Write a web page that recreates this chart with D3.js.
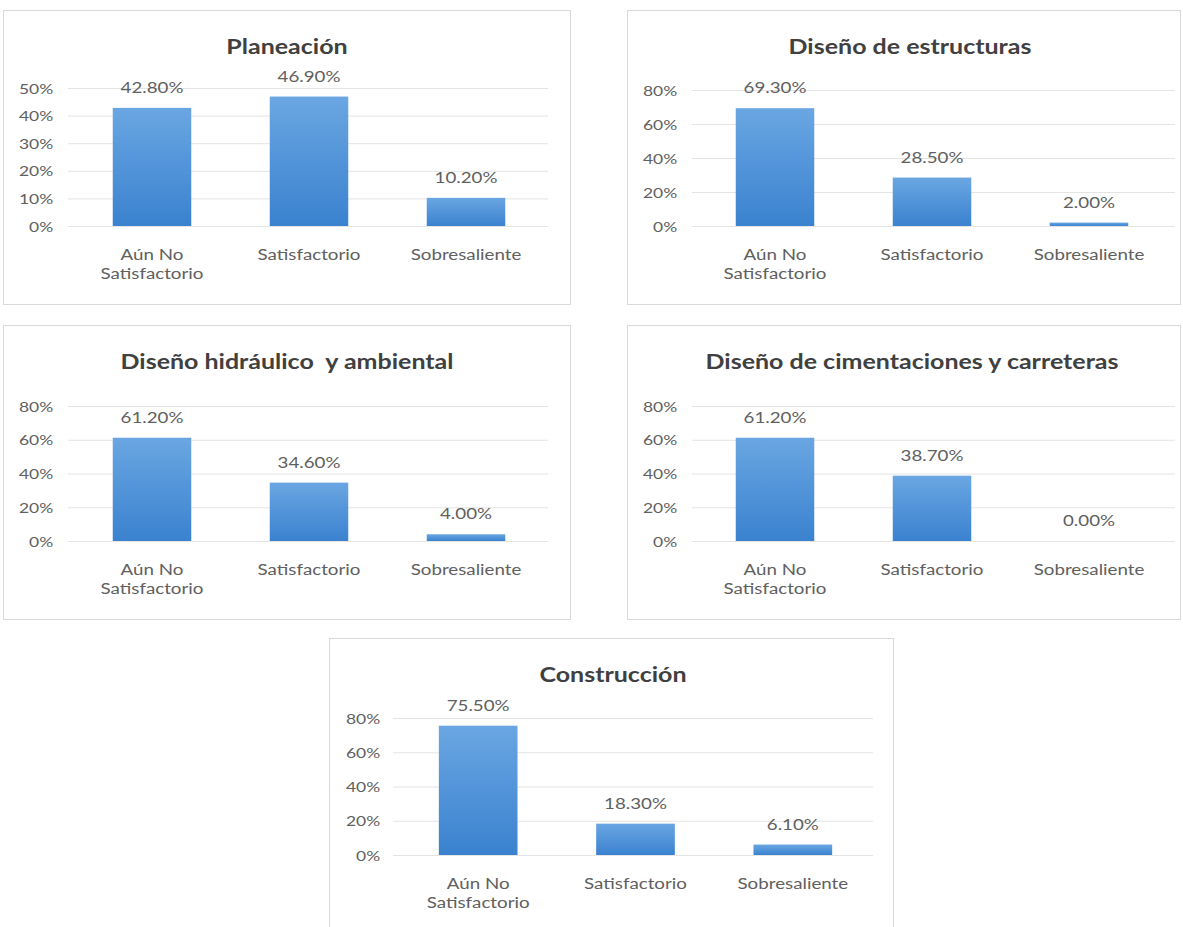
<!DOCTYPE html>
<html>
<head>
<meta charset="utf-8">
<script src="https://cdn.jsdelivr.net/npm/d3@7"></script>
<style>
  html, body { margin: 0; padding: 0; background: #ffffff; }
  svg { display: block; }
  .title { font-family: Lato, "Open Sans", sans-serif; font-weight: 700; fill: #404040; }
  .lbl { font-family: Lato, "Open Sans", sans-serif; fill: #606060; }
</style>
</head>
<body>
<svg id="chart" width="1183" height="927"></svg>
<script>
// Evaluation levels shared by every panel
const categories = ["Aún No Satisfactorio", "Satisfactorio", "Sobresaliente"];

// Panel titles
const titles = [
  "Planeación",
  "Diseño de estructuras",
  "Diseño hidráulico  y ambiental",
  "Diseño de cimentaciones y carreteras",
  "Construcción"
];

// Percentage of students at each level, per competence
const planeacion = [42.8, 46.9, 10.2];
const estructuras = [69.3, 28.5, 2.0];
const hidraulico = [61.2, 34.6, 4.0];
const cimentaciones = [61.2, 38.7, 0.0];
const construccion = [75.5, 18.3, 6.1];

// Y-axis tick values per panel
const ticks50 = [0, 10, 20, 30, 40, 50];
const ticks80 = [0, 20, 40, 60, 80];

const seriesList = [planeacion, estructuras, hidraulico, cimentaciones, construccion];
const tickList = [ticks50, ticks80, ticks80, ticks80, ticks80];

// Frame and plot geometry for each panel
const layout = [
  { box: [3, 10, 567, 294], plot: [73.5, 544.5, 88, 226], grid: [68, 548], tickRight: 57, titleX: 287, titleY: 53.5 },
  { box: [627, 10, 553, 294], plot: [696.5, 1167.5, 90, 226], grid: [692, 1175], tickRight: 681, titleX: 910, titleY: 53.5 },
  { box: [3, 325, 567, 294], plot: [73.5, 544.5, 406, 541], grid: [68, 548], tickRight: 57, titleX: 287, titleY: 369 },
  { box: [627, 325, 553, 294], plot: [696.5, 1167.5, 406, 541], grid: [692, 1175], tickRight: 681, titleX: 912, titleY: 369 },
  { box: [329, 638, 564, 300], plot: [399.5, 871.5, 718, 855], grid: [393, 873], tickRight: 384, titleX: 613, titleY: 682 }
];

// horizontal widening applied to every text run
const SX = 1.25;

const svg = d3.select("#chart");

// Vertical gradient used for the bars (lighter at the top)
const defs = svg.append("defs");
const grad = defs.append("linearGradient")
  .attr("id", "barGrad").attr("x1", 0).attr("y1", 0).attr("x2", 0).attr("y2", 1);
grad.append("stop").attr("offset", "0%").attr("stop-color", "#6aa6e2");
grad.append("stop").attr("offset", "100%").attr("stop-color", "#3a82cf");

// text placed at (x, y) baseline, widened horizontally around its anchor
function wideText(parent, x, y, str, cls, size, anchor) {
  return parent.append("text")
    .attr("class", cls)
    .attr("transform", `translate(${x},${y}) scale(${SX},1)`)
    .attr("text-anchor", anchor || "middle")
    .attr("font-size", size)
    .text(str);
}

seriesList.forEach((values, i) => {
  const L = layout[i];
  const ticks = tickList[i];
  const [x0, x1, yTop, yBase] = L.plot;
  const g = svg.append("g");

  // panel frame
  g.append("rect")
    .attr("x", L.box[0] + 0.5).attr("y", L.box[1] + 0.5)
    .attr("width", L.box[2]).attr("height", L.box[3])
    .attr("fill", "#ffffff").attr("stroke", "#d9d9d9").attr("stroke-width", 1);

  // title
  wideText(g, L.titleX, L.titleY, titles[i], "title", 20, "middle").style("white-space", "pre");

  const x = d3.scaleBand().domain(categories).range([x0, x1]).paddingInner(0.5).paddingOuter(0.25);
  const y = d3.scaleLinear().domain([0, d3.max(ticks)]).range([yBase, yTop]);

  // gridlines
  const gridAxis = d3.axisLeft(y).tickValues(ticks).tickSize(-(L.grid[1] - L.grid[0])).tickFormat("");
  const grid = g.append("g").attr("transform", `translate(${L.grid[0]},0)`).call(gridAxis);
  grid.select(".domain").remove();
  grid.selectAll(".tick line").attr("stroke", "#e4e4e4").attr("stroke-width", 1);

  // y tick labels
  const yAxis = d3.axisLeft(y).tickValues(ticks).tickSize(0).tickPadding(3).tickFormat(d => d + "%");
  const ya = g.append("g").attr("transform", `translate(${L.tickRight},0)`).call(yAxis);
  ya.select(".domain").remove();
  ya.attr("font-family", null).attr("font-size", null);
  ya.selectAll("text")
    .attr("class", "lbl")
    .attr("font-size", 14)
    .attr("dy", "0.36em")
    .attr("transform", `scale(${SX},1)`);

  // bars
  g.selectAll(".bar").data(values).enter().append("rect")
    .attr("class", "bar")
    .attr("x", (d, j) => x(categories[j]))
    .attr("width", x.bandwidth())
    .attr("y", d => y(d))
    .attr("height", d => yBase - y(d))
    .attr("fill", "url(#barGrad)");

  // value labels
  values.forEach((v, j) => {
    const cx = x(categories[j]) + x.bandwidth() / 2;
    wideText(g, cx, y(v) - 15, v.toFixed(2) + "%", "lbl", 15, "middle");
  });

  // category labels (first one wraps to two lines)
  categories.forEach((c, j) => {
    const cx = x(c) + x.bandwidth() / 2;
    const lines = j === 0 ? ["Aún No", "Satisfactorio"] : [c];
    lines.forEach((ln, k) => {
      wideText(g, cx, yBase + 33.5 + k * 19, ln, "lbl", 15, "middle");
    });
  });
});
</script>
</body>
</html>
